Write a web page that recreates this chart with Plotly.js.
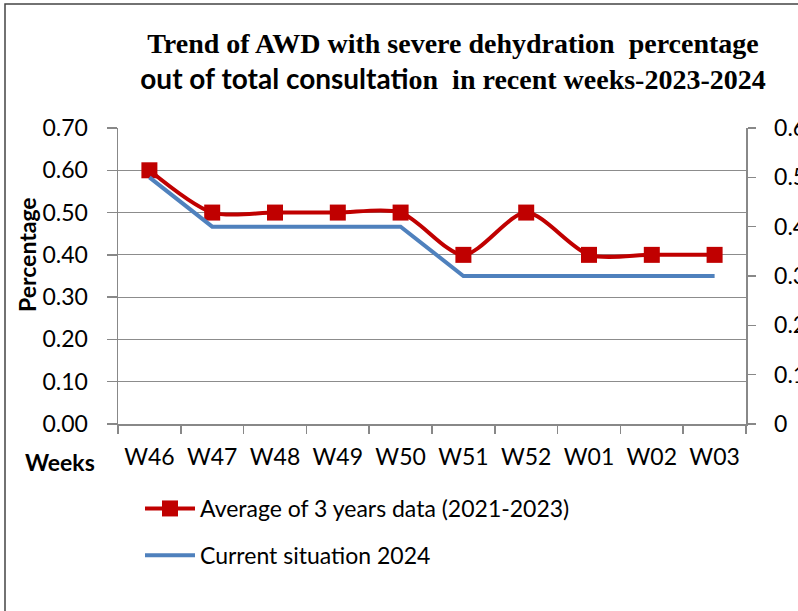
<!DOCTYPE html>
<html><head><meta charset="utf-8">
<script src="https://cdn.plot.ly/plotly-3.0.1.min.js"></script>
<style>html,body{margin:0;padding:0;background:#fff}#chart{width:798px;height:611px}</style>
</head><body><div id="chart"></div>
<script>
const weeks = ["W46","W47","W48","W49","W50","W51","W52","W01","W02","W03"];
const avg3yrs = [0.60,0.50,0.50,0.50,0.50,0.40,0.50,0.40,0.40,0.40];
const current2024 = [0.5,0.4,0.4,0.4,0.4,0.3,0.3,0.3,0.3,0.3];
const leftTicks = [0,0.1,0.2,0.3,0.4,0.5,0.6,0.7];
const leftTickText = ["0.00","0.10","0.20","0.30","0.40","0.50","0.60","0.70"];
const rightTicks = [0,0.1,0.2,0.3,0.4,0.5,0.6];
const rightTickText = ["0","0.1","0.2","0.3","0.4","0.5","0.6"];

const W = 798, H = 611, L = 118, R = 746, T = 128, B = 424;
const px = x => (x - L) / (R - L);
const py = y => (B - y) / (B - T);
const sans = "Lato, 'Liberation Sans', sans-serif";
const serif = "'Liberation Serif', 'Times New Roman', serif";
const FS = 23;

const traces = [
  {x: weeks, y: avg3yrs, name: "Average of 3 years data (2021-2023)", type: "scatter", mode: "lines+markers",
   legendgroup: "g1",
   line: {color: "#C00000", width: 4, shape: "spline", smoothing: 0.8},
   marker: {symbol: "square", size: 16, color: "#C00000"}},
  {x: weeks, y: current2024, name: "Current situation 2024", type: "scatter", mode: "lines", yaxis: "y2",
   legendgroup: "g2",
   line: {color: "#4F81BD", width: 4}}
];

const layout = {
  width: W, height: H,
  margin: {l: L, r: W - R, t: T, b: H - B, pad: 0},
  paper_bgcolor: "#fff", plot_bgcolor: "#fff",
  font: {family: sans, size: FS, color: "#000"},
  title: {
    text: "<b>Trend of AWD with severe dehydration  percentage</b><br><b><span style='font-family:Lato'>out of total consultati</span>on  in recent weeks-2023-2024</b>",
    font: {family: serif, size: 28, color: "#000"},
    x: px(453), xanchor: "center", xref: "paper", y: 1 - 53 / H, yanchor: "top"
  },
  xaxis: {
    type: "category", range: [-0.5, 9.5], showgrid: false,
    showline: true, linecolor: "#888", linewidth: 1.5,
    ticks: "outside", ticklen: 8, tickcolor: "#888", tickwidth: 1.5,
    tickson: "boundaries", tickfont: {family: sans, size: FS}, automargin: false,
    ticklabelstandoff: 12
  },
  yaxis: {
    range: [0, 0.7], tickvals: leftTicks, ticktext: leftTickText,
    showgrid: true, gridcolor: "#8c8c8c", gridwidth: 1.2,
    showline: true, linecolor: "#888", linewidth: 1.5,
    ticks: "outside", ticklen: 10, tickcolor: "#888", tickwidth: 1.5,
    tickfont: {family: sans, size: FS}, zeroline: false, automargin: false,
    ticklabelstandoff: 14
  },
  yaxis2: {
    range: [0, 0.6], tickvals: rightTicks, ticktext: rightTickText, overlaying: "y", side: "right",
    showgrid: false, showline: true, linecolor: "#888", linewidth: 1.5,
    ticks: "outside", ticklen: 8, tickcolor: "#888", tickwidth: 1.5,
    tickfont: {family: sans, size: FS}, zeroline: false, automargin: false,
    ticklabelstandoff: 14
  },
  showlegend: true,
  legend: {x: px(140), y: py(487), xanchor: "left", yanchor: "top", orientation: "v", traceorder: "grouped",
           font: {family: sans, size: FS}, tracegroupgap: 14, itemwidth: 50, bgcolor: "rgba(0,0,0,0)"},
  annotations: [
    {text: "<b>Weeks</b>", x: px(60), y: py(462), xref: "paper", yref: "paper", showarrow: false,
     font: {family: sans, size: FS}, xanchor: "center", yanchor: "middle"},
    {text: "<b>Percentage</b>", x: px(27), y: py(255), xref: "paper", yref: "paper", showarrow: false,
     textangle: -90, font: {family: sans, size: FS}, xanchor: "center", yanchor: "middle"}
  ],
  shapes: [
    {type: "path", xref: "paper", yref: "paper",
     path: `M ${px(5)} ${py(H + 5)} L ${px(5)} ${py(4)} L ${px(W + 5)} ${py(4)}`,
     line: {color: "#444", width: 1.5}}
  ]
};
Plotly.newPlot("chart", traces, layout, {displayModeBar: false, staticPlot: true});
</script></body></html>
